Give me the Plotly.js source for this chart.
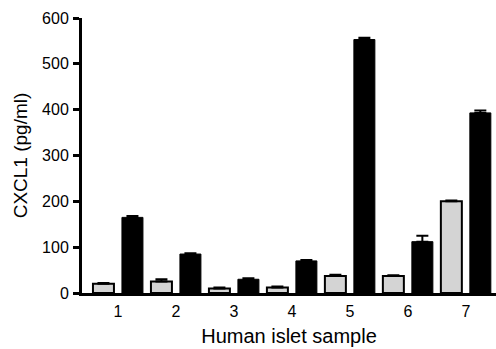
<!DOCTYPE html>
<html><head><meta charset="utf-8">
<script src="https://cdn.plot.ly/plotly-3.0.1.min.js"></script>
<style>html,body{margin:0;padding:0;background:#fff;}</style>
</head><body><div id="chart" style="width:496px;height:349px;"></div>
<script>
const samples = ["1","2","3","4","5","6","7"];
const greyValues = [20, 25, 10, 12, 37, 37, 200];
const greyErrors = [2, 5, 2, 2, 3, 2, 2];
const blackValues = [165, 85, 30, 70, 553, 112, 393];
const blackErrors = [3, 2, 2, 2, 4, 13, 5];

const traceGrey = {
  type: 'bar', x: samples, y: greyValues,
  marker: {color: '#d4d4d4', line: {color: '#000', width: 2}},
  error_y: {type: 'data', array: greyErrors, arrayminus: greyErrors.map(() => 0), symmetric: false, color: '#000', thickness: 2, width: 6},
  showlegend: false, hoverinfo: 'none'
};
const traceBlack = {
  type: 'bar', x: samples, y: blackValues,
  marker: {color: '#000', line: {color: '#000', width: 1}},
  error_y: {type: 'data', array: blackErrors, arrayminus: blackErrors.map(() => 0), symmetric: false, color: '#000', thickness: 2, width: 6},
  showlegend: false, hoverinfo: 'none'
};
const layout = {
  width: 496, height: 349,
  margin: {l: 82, r: 0, t: 18, b: 56},
  paper_bgcolor: '#fff', plot_bgcolor: '#fff',
  barmode: 'group', bargap: 0, bargroupgap: 0.276,
  font: {family: 'Liberation Sans, Arial, sans-serif', color: '#000', size: 16},
  xaxis: {
    type: 'category', range: [-0.62, 6.52],
    showline: true, linecolor: '#000', linewidth: 3,
    ticks: '', showgrid: false, zeroline: false,
    tickfont: {size: 16}, ticklabelstandoff: 2,
    title: {text: 'Human islet sample', font: {size: 20}, standoff: 10}
  },
  yaxis: {
    range: [0, 600], tickvals: [0,100,200,300,400,500,600],
    showline: true, linecolor: '#000', linewidth: 3,
    ticks: 'outside', ticklen: 6, tickwidth: 3, tickcolor: '#000',
    showgrid: false, zeroline: false,
    tickfont: {size: 16}, ticklabelstandoff: 1,
    title: {text: 'CXCL1 (pg/ml)', font: {size: 19}, standoff: 10}
  }
};
Plotly.newPlot('chart', [traceGrey, traceBlack], layout, {staticPlot: true, displayModeBar: false});
</script></body></html>
